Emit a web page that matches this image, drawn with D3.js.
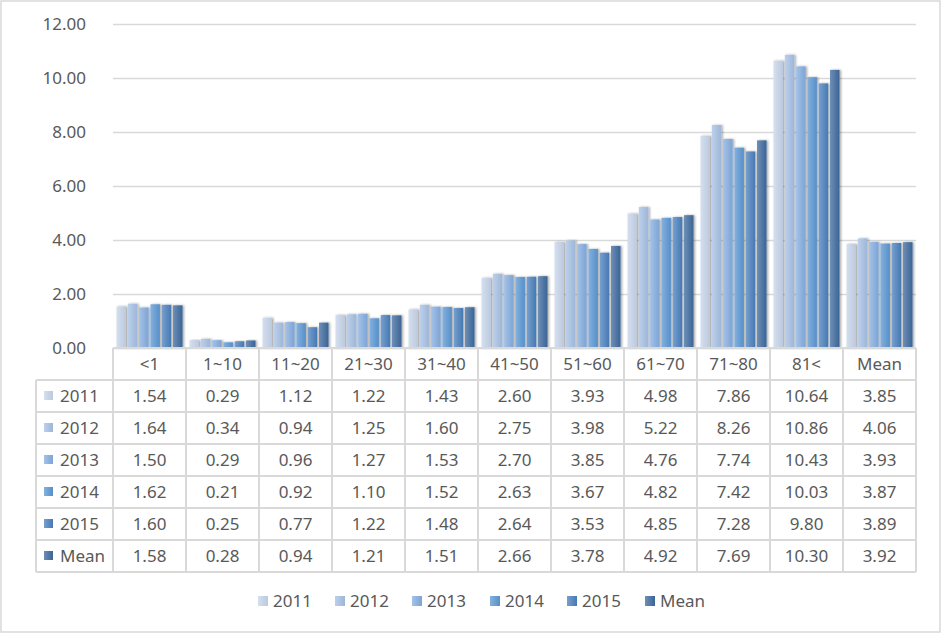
<!DOCTYPE html>
<html>
<head>
<meta charset="utf-8">
<script src="https://cdn.jsdelivr.net/npm/d3@7"></script>
<style>
  html, body { margin: 0; padding: 0; background: #fff; }
  svg { display: block; }
  text { font-family: "Noto Sans", "Noto Sans CJK KR", sans-serif; fill: #595959; }
</style>
</head>
<body>
<svg id="chart" width="942" height="634"></svg>
<script>
const categories = ["<1", "1~10", "11~20", "21~30", "31~40", "41~50", "51~60", "61~70", "71~80", "81<", "Mean"];
const seriesNames = ["2011", "2012", "2013", "2014", "2015", "Mean"];
const v2011 = [1.54, 0.29, 1.12, 1.22, 1.43, 2.60, 3.93, 4.98, 7.86, 10.64, 3.85];
const v2012 = [1.64, 0.34, 0.94, 1.25, 1.60, 2.75, 3.98, 5.22, 8.26, 10.86, 4.06];
const v2013 = [1.50, 0.29, 0.96, 1.27, 1.53, 2.70, 3.85, 4.76, 7.74, 10.43, 3.93];
const v2014 = [1.62, 0.21, 0.92, 1.10, 1.52, 2.63, 3.67, 4.82, 7.42, 10.03, 3.87];
const v2015 = [1.60, 0.25, 0.77, 1.22, 1.48, 2.64, 3.53, 4.85, 7.28, 9.80, 3.89];
const vMean = [1.58, 0.28, 0.94, 1.21, 1.51, 2.66, 3.78, 4.92, 7.69, 10.30, 3.92];
const yTicks = [0, 2, 4, 6, 8, 10, 12];
const colors = ["#c6d4ea", "#a6c0e4", "#84ade0", "#5b97d4", "#4a80bd", "#3d6a9e"];

const seriesValues = [v2011, v2012, v2013, v2014, v2015, vMean];

const svg = d3.select("#chart");
const W = 942, H = 634;
const plot = { left: 113, right: 916, top: 24, bottom: 348 };
const tableLeft = 36, headerH = 32, rowH = 32;
const gridColor = "#d9d9d9";
const fs = "17px";

// outer border
svg.append("rect").attr("x", 1).attr("y", 1).attr("width", W - 3).attr("height", H - 3)
  .attr("fill", "#fff").attr("stroke", gridColor).attr("stroke-width", 1.5);

const x0 = d3.scaleBand().domain(categories).range([plot.left, plot.right]).padding(0);
const x1 = d3.scaleBand().domain(seriesNames).range([3.5, x0.bandwidth() - 3.5]).paddingInner(0.16).paddingOuter(0);
const y = d3.scaleLinear().domain([0, 12]).range([plot.bottom, plot.top]);

const defs = svg.append("defs");
colors.forEach((c, i) => {
  const g = defs.append("linearGradient").attr("id", "grad" + i)
    .attr("x1", "0").attr("y1", "0").attr("x2", "1").attr("y2", "0");
  g.append("stop").attr("offset", "0%").attr("stop-color", d3.interpolateRgb(c, "#ffffff")(0.25));
  g.append("stop").attr("offset", "100%").attr("stop-color", d3.color(c).darker(0.15));
});
const f = defs.append("filter").attr("id", "shadow").attr("x", "-30%").attr("y", "-10%").attr("width", "160%").attr("height", "120%");
f.append("feDropShadow").attr("dx", 1.5).attr("dy", 0).attr("stdDeviation", 1.2).attr("flood-color", "#000").attr("flood-opacity", 0.35);

// gridlines
const yAxis = d3.axisLeft(y).tickValues(yTicks).tickSize(-(plot.right - plot.left)).tickFormat(d3.format(".2f")).tickPadding(27);
const ga = svg.append("g").attr("transform", `translate(${plot.left},0)`).call(yAxis);
ga.select(".domain").remove();
ga.selectAll(".tick line").attr("stroke", gridColor).attr("stroke-width", 1.5);
ga.selectAll(".tick text").style("font-size", fs).attr("fill", "#595959");

// bars
const groups = svg.append("g").selectAll("g").data(categories).join("g")
  .attr("transform", d => `translate(${x0(d)},0)`);
groups.selectAll("rect")
  .data((d, ci) => seriesNames.map((s, si) => ({ s, si, v: seriesValues[si][ci] })))
  .join("rect")
  .attr("x", d => x1(d.s))
  .attr("width", x1.bandwidth())
  .attr("y", d => y(d.v))
  .attr("height", d => y(0) - y(d.v))
  .attr("fill", d => `url(#grad${d.si})`)
  .attr("filter", "url(#shadow)");

// table
const tb = svg.append("g");
const tableBottom = plot.bottom + headerH + rowH * seriesNames.length;
const lineAttr = sel => sel.attr("stroke", gridColor).attr("stroke-width", 2);
tb.append("line").attr("x1", plot.left).attr("x2", plot.right).attr("y1", plot.bottom).attr("y2", plot.bottom).call(lineAttr);
for (let i = 0; i <= seriesNames.length; i++) {
  const yy = plot.bottom + headerH + i * rowH;
  tb.append("line").attr("x1", tableLeft).attr("x2", plot.right).attr("y1", yy).attr("y2", yy).call(lineAttr);
}
categories.forEach(c => {
  tb.append("line").attr("x1", x0(c)).attr("x2", x0(c)).attr("y1", plot.bottom).attr("y2", tableBottom).call(lineAttr);
});
tb.append("line").attr("x1", plot.right).attr("x2", plot.right).attr("y1", plot.bottom).attr("y2", tableBottom).call(lineAttr);
tb.append("line").attr("x1", tableLeft).attr("x2", tableLeft).attr("y1", plot.bottom + headerH).attr("y2", tableBottom).call(lineAttr);

tb.selectAll("text.cat").data(categories).join("text").attr("class", "cat")
  .attr("x", d => x0(d) + x0.bandwidth() / 2)
  .attr("y", plot.bottom + headerH / 2)
  .attr("dy", "0.35em").attr("text-anchor", "middle").style("font-size", fs)
  .text(d => d);

seriesNames.forEach((s, si) => {
  const cy = plot.bottom + headerH + si * rowH + rowH / 2;
  tb.append("rect").attr("x", 44).attr("y", cy - 5).attr("width", 9).attr("height", 9)
    .attr("fill", `url(#grad${si})`);
  tb.append("text").attr("x", 60).attr("y", cy).attr("dy", "0.35em").style("font-size", fs).text(s);
  tb.selectAll(null).data(categories).join("text")
    .attr("x", d => x0(d) + x0.bandwidth() / 2)
    .attr("y", cy).attr("dy", "0.35em").attr("text-anchor", "middle").style("font-size", fs)
    .text((d, ci) => seriesValues[si][ci].toFixed(2));
});

// legend
const legendX = [258, 335, 412, 490, 567, 645];
const lg = svg.append("g");
seriesNames.forEach((s, si) => {
  lg.append("rect").attr("x", legendX[si]).attr("y", 596).attr("width", 10).attr("height", 10).attr("fill", `url(#grad${si})`);
  lg.append("text").attr("x", legendX[si] + 15).attr("y", 601).attr("dy", "0.35em").style("font-size", fs).text(s);
});
</script>
</body>
</html>
